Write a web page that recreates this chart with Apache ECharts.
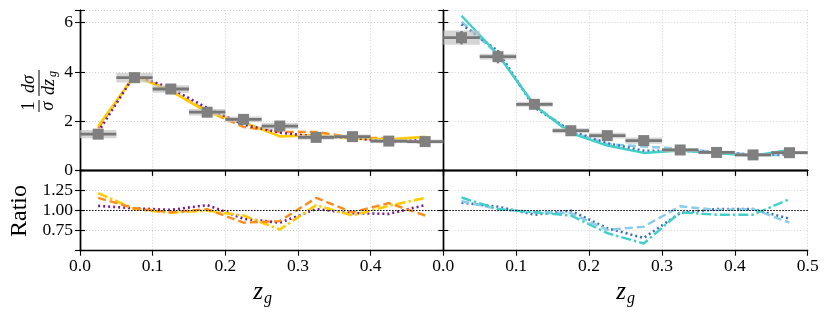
<!DOCTYPE html>
<html><head><meta charset="utf-8">
<script src="https://cdn.jsdelivr.net/npm/echarts@6/dist/echarts.min.js"></script>
<style>html,body{margin:0;padding:0;background:#fff}#c{width:831px;height:316px}</style>
</head><body><div id="c"></div>
<script>
// ---------- data ----------
const zgBins = [0.025, 0.075, 0.125, 0.175, 0.225, 0.275, 0.325, 0.375, 0.425, 0.475];
const binHalfWidth = 0.025;

// left panel (measured data)
const leftData = [1.48, 3.77, 3.31, 2.37, 2.08, 1.81, 1.35, 1.38, 1.20, 1.18];
const leftStat = [0.08, 0.10, 0.08, 0.07, 0.07, 0.07, 0.06, 0.06, 0.06, 0.06];
const leftSys  = [0.17, 0.20, 0.15, 0.13, 0.12, 0.12, 0.10, 0.09, 0.08, 0.08];
// left panel models
const leftYellow = [1.80, 3.85, 3.23, 2.37, 1.96, 1.39, 1.44, 1.30, 1.27, 1.37];
const leftOrange = [1.72, 3.88, 3.24, 2.42, 1.77, 1.57, 1.57, 1.35, 1.31, 1.11];
const leftPurple = [1.57, 3.88, 3.34, 2.54, 1.87, 1.54, 1.38, 1.34, 1.15, 1.26];
// left ratios
const leftRatioYellow = [1.22, 1.02, 0.975, 1.00, 0.94, 0.765, 1.07, 0.94, 1.06, 1.16];
const leftRatioOrange = [1.16, 1.03, 0.98, 1.02, 0.85, 0.87, 1.16, 0.98, 1.095, 0.94];
const leftRatioPurple = [1.06, 1.03, 1.01, 1.07, 0.90, 0.85, 1.02, 0.97, 0.96, 1.07];

// right panel (measured data)
const rightData = [5.39, 4.62, 2.69, 1.62, 1.42, 1.22, 0.84, 0.74, 0.64, 0.73];
const rightStat = [0.27, 0.27, 0.12, 0.08, 0.07, 0.07, 0.05, 0.05, 0.05, 0.05];
const rightSys  = [0.29, 0.12, 0.10, 0.10, 0.12, 0.13, 0.08, 0.07, 0.07, 0.07];
// right panel models
const rightTurquoise = [6.28, 4.71, 2.64, 1.52, 1.02, 0.72, 0.82, 0.70, 0.61, 0.84];
const rightSkyblue   = [6.04, 4.71, 2.65, 1.57, 1.08, 0.98, 0.89, 0.75, 0.65, 0.62];
const rightBlue      = [5.93, 4.85, 2.56, 1.62, 1.11, 0.81, 0.81, 0.75, 0.65, 0.66];
// right ratios
const rightRatioTurquoise = [1.165, 1.02, 0.98, 0.94, 0.72, 0.59, 0.98, 0.95, 0.95, 1.145];
const rightRatioSkyblue   = [1.12, 1.02, 0.985, 0.97, 0.76, 0.80, 1.055, 1.01, 1.02, 0.85];
const rightRatioBlue      = [1.10, 1.05, 0.95, 1.00, 0.78, 0.66, 0.97, 1.02, 1.02, 0.90];

const ratioReference = 1.0;
const topYTickLabels = [0, 2, 4, 6];
const ratioYTickLabels = [0.75, 1.0, 1.25];

// ---------- chart ----------
const FONT = 'Liberation Serif';
const chart = echarts.init(document.getElementById('c'), null, {renderer: 'canvas'});

const grids = [
  {left: 80, top: 10.3, width: 363.3, height: 160.4},
  {left: 443.3, top: 10.3, width: 364.4, height: 160.4},
  {left: 80, top: 170.7, width: 363.3, height: 80},
  {left: 443.3, top: 170.7, width: 364.4, height: 80}
];

const axisLineStyle = {show: true, lineStyle: {color: '#000', width: 1.4}};
const splitStyle = {show: true, lineStyle: {color: '#c4c4c4', width: 0.8, type: [1, 2]}};

function xAx(grid, pos, labels, tickInside, showTick, showSplit, hideMax) {
  return {
    type: 'value', gridIndex: grid, position: pos, min: 0, max: 0.5, interval: 0.1,
    axisLine: axisLineStyle,
    axisTick: {show: showTick, inside: tickInside, length: 5, lineStyle: {color: '#000', width: 1.1}},
    axisLabel: {show: labels, showMaxLabel: !hideMax, margin: 7, color: '#000', fontFamily: FONT, fontSize: 17.5,
      formatter: v => v.toFixed(1)},
    splitLine: showSplit ? splitStyle : {show: false}
  };
}
function yAx(grid, pos, isRatio, labels, showSplit) {
  const base = isRatio ? {min: 0.5, max: 1.5, interval: 0.25} : {min: 0, max: 6.5, interval: 2};
  return Object.assign({
    type: 'value', gridIndex: grid, position: pos,
    axisLine: axisLineStyle,
    axisTick: {show: true, inside: true, length: 5, lineStyle: {color: '#000', width: 1.1}},
    axisLabel: {show: labels, margin: 7, color: '#000', fontFamily: FONT, fontSize: 17.5,
      formatter: v => {
        if (isRatio) return ratioYTickLabels.some(t => Math.abs(t - v) < 1e-6) ? v.toFixed(2) : '';
        return topYTickLabels.some(t => Math.abs(t - v) < 1e-6) ? String(v) : '';
      }},
    splitLine: showSplit ? splitStyle : {show: false}
  }, base);
}

const xAxes = [
  xAx(0, 'bottom', false, false, false, true, false), xAx(0, 'top', false, true, true, false, false),
  xAx(1, 'bottom', false, false, false, true, false), xAx(1, 'top', false, true, true, false, false),
  xAx(2, 'bottom', true, false, true, true, true),  xAx(2, 'top', false, true, true, false, false),
  xAx(3, 'bottom', true, false, true, true, false), xAx(3, 'top', false, true, true, false, false)
];
const yAxes = [
  yAx(0, 'left', false, true, true), yAx(0, 'right', false, false, false),
  yAx(1, 'left', false, false, true), yAx(1, 'right', false, false, false),
  yAx(2, 'left', true, true, true), yAx(2, 'right', true, false, false),
  yAx(3, 'left', true, false, true), yAx(3, 'right', true, false, false)
];

function pairs(vals) { return zgBins.map((x, i) => [x, vals[i]]); }
function lineSeries(gridIdx, vals, color, type, width, z) {
  return {
    type: 'line', xAxisIndex: gridIdx * 2, yAxisIndex: gridIdx * 2, data: pairs(vals),
    symbol: 'none', showSymbol: false, silent: true, animation: false, z: z || 3,
    lineStyle: {color: color, width: width || 2, type: type, cap: 'butt'}
  };
}
function renderPoint(params, api) {
  const x = api.value(0), y = api.value(1), st = api.value(2), sy = api.value(3);
  const a = api.coord([x - binHalfWidth, y + sy]);
  const b = api.coord([x + binHalfWidth, y - sy]);
  const c = api.coord([x, y]);
  const l = api.coord([x - binHalfWidth, y]);
  const r = api.coord([x + binHalfWidth, y]);
  const t = api.coord([x, y + st]);
  const d = api.coord([x, y - st]);
  return {type: 'group', children: [
    {type: 'rect', shape: {x: a[0], y: a[1], width: b[0] - a[0], height: b[1] - a[1]}, style: {fill: 'rgba(195,195,195,0.7)'}},
    {type: 'line', shape: {x1: l[0], y1: l[1], x2: r[0], y2: r[1]}, style: {stroke: '#777', lineWidth: 2.8}},
    {type: 'line', shape: {x1: t[0], y1: t[1], x2: d[0], y2: d[1]}, style: {stroke: '#777', lineWidth: 2.4}},
    {type: 'rect', shape: {x: c[0] - 5.5, y: c[1] - 5.5, width: 11, height: 11}, style: {fill: '#808080'}}
  ]};
}
function pointSeries(gridIdx, vals, stat, sys) {
  return {
    type: 'custom', xAxisIndex: gridIdx * 2, yAxisIndex: gridIdx * 2, renderItem: renderPoint,
    data: zgBins.map((x, i) => [x, vals[i], stat[i], sys[i]]), encode: {x: 0, y: 1},
    z: 10, silent: true, animation: false, clip: false
  };
}

const DASH = [8, 4], DOT = [2, 3], DASHDOT = [10, 3, 2.5, 3];
const C_YEL = '#FFCC00', C_ORA = '#FF8C1A', C_PUR = '#7B1C8C';
const C_TUR = '#40D0C8', C_SKY = '#8CCBEA', C_BLU = '#3F6EBF';

const series = [
  lineSeries(0, leftOrange, C_ORA, DASH, 2.4),
  lineSeries(0, leftYellow, C_YEL, 'solid', 2.6),
  lineSeries(0, leftPurple, C_PUR, DOT, 2.6),
  pointSeries(0, leftData, leftStat, leftSys),

  lineSeries(1, rightSkyblue, C_SKY, DASH, 2.5),
  lineSeries(1, rightBlue, C_BLU, DOT, 2.6),
  lineSeries(1, rightTurquoise, C_TUR, 'solid', 2.4),
  pointSeries(1, rightData, rightStat, rightSys),

  Object.assign(lineSeries(2, leftRatioPurple, C_PUR, DOT, 2.6), {
    markLine: {silent: true, symbol: 'none', animation: false, label: {show: false},
      lineStyle: {color: '#000', width: 1.2, type: [1.5, 1.5]}, data: [{yAxis: ratioReference}]}
  }),
  lineSeries(2, leftRatioYellow, C_YEL, DASHDOT, 2.6),
  lineSeries(2, leftRatioOrange, C_ORA, DASH, 2.4),

  Object.assign(lineSeries(3, rightRatioBlue, C_BLU, DOT, 2.6), {
    markLine: {silent: true, symbol: 'none', animation: false, label: {show: false},
      lineStyle: {color: '#000', width: 1.2, type: [1.5, 1.5]}, data: [{yAxis: ratioReference}]}
  }),
  lineSeries(3, rightRatioSkyblue, C_SKY, DASH, 2.5),
  lineSeries(3, rightRatioTurquoise, C_TUR, DASHDOT, 2.4)
];

const ital = (s, size) => ({text: s, font: 'italic ' + size + 'px "' + FONT + '"', fill: '#000', align: 'center', verticalAlign: 'middle'});
const norm = (s, size) => ({text: s, font: size + 'px "' + FONT + '"', fill: '#000', align: 'center', verticalAlign: 'middle'});

const graphic = [
  // y label of top panel: (1/σ)(dσ/dz_g), rotated
  {type: 'group', x: 39, y: 91, rotation: Math.PI / 2, silent: true, children: [
    {type: 'text', x: -15, y: -10, style: norm('1', 18)},
    {type: 'line', shape: {x1: -21, y1: 0, x2: -9, y2: 0}, style: {stroke: '#000', lineWidth: 1}},
    {type: 'text', x: -15, y: 9, style: ital('σ', 18)},
    {type: 'text', x: 7, y: -10, style: ital('dσ', 18)},
    {type: 'line', shape: {x1: -5, y1: 0, x2: 21, y2: 0}, style: {stroke: '#000', lineWidth: 1}},
    {type: 'text', x: 4, y: 10, style: ital('dz', 18)},
    {type: 'text', x: 17, y: 14, style: ital('g', 12)}
  ]},
  {type: 'text', x: 20, y: 211, rotation: Math.PI / 2, silent: true, style: norm('Ratio', 24)},
  {type: 'text', x: 258, y: 292, silent: true, style: ital('z', 25)},
  {type: 'text', x: 268, y: 299, silent: true, style: ital('g', 16)},
  {type: 'text', x: 621, y: 292, silent: true, style: ital('z', 25)},
  {type: 'text', x: 631, y: 299, silent: true, style: ital('g', 16)}
];

chart.setOption({
  animation: false,
  backgroundColor: '#fff',
  grid: grids,
  xAxis: xAxes,
  yAxis: yAxes,
  series: series,
  graphic: graphic
});
</script>
</body></html>
